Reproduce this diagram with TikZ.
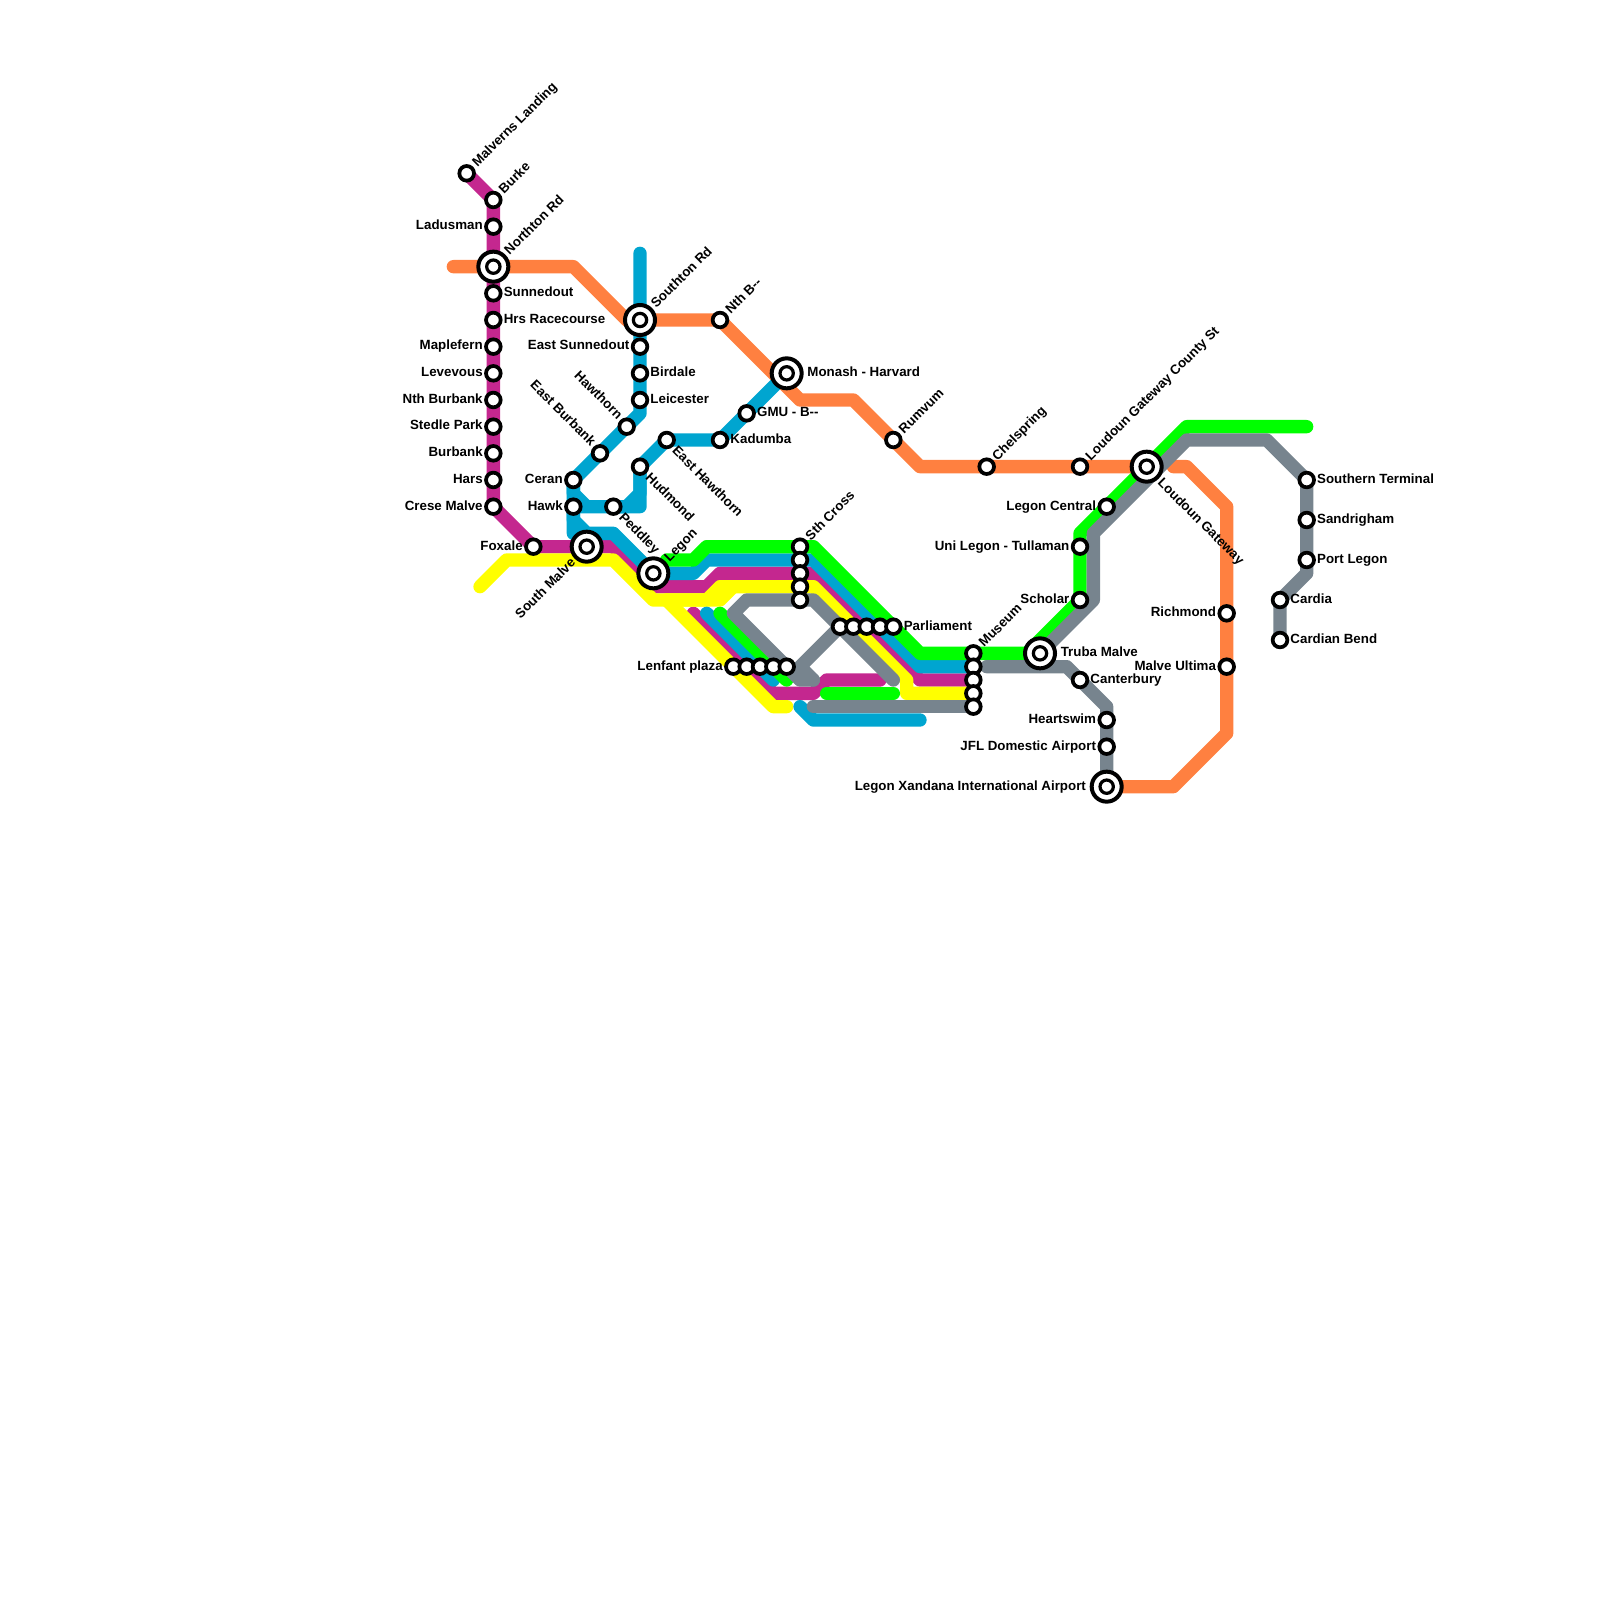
\documentclass[tikz,border=0pt]{standalone}
\usepackage{fontspec}
\setmainfont{Liberation Sans}
\usetikzlibrary{backgrounds}

\definecolor{lineorange}{HTML}{FF8040}
\definecolor{linemagenta}{HTML}{C4278F}
\definecolor{lineyellow}{HTML}{FFFF00}
\definecolor{lineblue}{HTML}{00A5D0}
\definecolor{linegreen}{HTML}{00FF00}
\definecolor{linegrey}{HTML}{77848E}

\tikzset{
  metro/.style={line width=0.2cm, line cap=round, line join=round},
  station/.style={circle, draw=black, fill=white, line width=0.056cm, minimum size=0.22cm, inner sep=0pt},
  stationcore/.style={circle, draw=black, fill=white, line width=0.048cm, minimum size=0.2cm, inner sep=0pt},
  bigstation/.style={circle, draw=black, fill=white, line width=0.06cm, minimum size=0.45cm, inner sep=0pt,
    label={[stationcore, anchor=center]center:{}}},
  lbl/.style={font=\bfseries\fontsize{5.69}{7}\selectfont, inner sep=0pt, text height=0.1cm, text depth=0pt},
  lblr/.style={label={[lbl, anchor=west, xshift=0.012cm]right:#1}},
  lbll/.style={label={[lbl, anchor=east, xshift=-0.015cm]left:#1}},
  lblrbig/.style={label={[lbl, anchor=west, xshift=0.05cm]right:#1}},
  lbllbig/.style={label={[lbl, anchor=east, xshift=-0.05cm]left:#1}},
  lblne/.style={label={[lbl, rotate=45, anchor=west, xshift=0.03cm, yshift=-0.005cm]45:#1}},
  lblse/.style={label={[lbl, rotate=-45, anchor=west, xshift=0.03cm, yshift=-0.02cm]-45:#1}},
  lblnw/.style={label={[lbl, rotate=-45, anchor=east, xshift=-0.03cm, yshift=0.02cm]135:#1}},
  lblsw/.style={label={[lbl, rotate=45, anchor=east, xshift=-0.03cm, yshift=-0.02cm]-135:#1}},
}

\begin{document}
\begin{tikzpicture}[x=0.2cm, y=-0.2cm]
  \useasboundingbox (0,0) rectangle (120,120);

  % free line ends
  \coordinate (orangea) at (34,20);
  \coordinate (orangeb) at (88,35);
  \coordinate (magentab) at (52,46);
  \coordinate (magentac) at (66,51);
  \coordinate (yellowa) at (36,44);
  \coordinate (yellowb) at (50,45);
  \coordinate (yellowc) at (59,53);
  \coordinate (yellowd) at (55,44);
  \coordinate (bluea) at (48,19);
  \coordinate (blueb) at (53,46);
  \coordinate (bluec) at (58,51);
  \coordinate (blued) at (60,53);
  \coordinate (bluee) at (69,54);
  \coordinate (greena) at (50,42);
  \coordinate (greenb) at (54,46);
  \coordinate (greenc) at (59,51);
  \coordinate (greend) at (62,52);
  \coordinate (greene) at (67,52);
  \coordinate (greenf) at (98,32);
  \coordinate (greya) at (67,51);
  \coordinate (greyb) at (61,51);
  \coordinate (greyc) at (74,50);
  \coordinate (greyd) at (61,53);

  % stations, west side
  \node[station, lblne=Malverns Landing] (malverns) at (35,13) {};
  \node[station, lblne=Burke] (burke) at (37,15) {};
  \node[station, lbll=Ladusman] (ladusman) at (37,17) {};
  \node[bigstation, lblne=Northton Rd] (northton) at (37,20) {};
  \node[station, lblr=Sunnedout] (sunnedout) at (37,22) {};
  \node[station, lblr=Hrs Racecourse] (racecourse) at (37,24) {};
  \node[station, lbll=Maplefern] (maplefern) at (37,26) {};
  \node[station, lbll=Levevous] (levevous) at (37,28) {};
  \node[station, lbll=Nth Burbank] (nthburbank) at (37,30) {};
  \node[station, lbll=Stedle Park] (stedle) at (37,32) {};
  \node[station, lbll=Burbank] (burbank) at (37,34) {};
  \node[station, lbll=Hars] (hars) at (37,36) {};
  \node[station, lbll=Crese Malve] (crese) at (37,38) {};
  \node[station, lbll=Foxale] (foxale) at (40,41) {};
  \node[bigstation, lblsw=South Malve] (southmalve) at (44,41) {};
  \node[station, lbll=Ceran] (ceran) at (43,36) {};
  \node[station, lbll=Hawk] (hawk) at (43,38) {};
  \node[station, lblse=Peddley] (peddley) at (46,38) {};
  \node[bigstation, lblne=Legon] (legon) at (49,43) {};

  % stations, blue and orange north of Legon
  \node[bigstation, lblne=Southton Rd] (southton) at (48,24) {};
  \node[station, lbll=East Sunnedout] (eastsunnedout) at (48,26) {};
  \node[station, lblr=Birdale] (birdale) at (48,28) {};
  \node[station, lblr=Leicester] (leicester) at (48,30) {};
  \node[station, lblnw=Hawthorn] (hawthorn) at (47,32) {};
  \node[station, lblnw=East Burbank] (eastburbank) at (45,34) {};
  \node[station, lblse=Hudmond] (hudmond) at (48,35) {};
  \node[station, lblse=East Hawthorn] (easthawthorn) at (50,33) {};
  \node[station, lblr=Kadumba] (kadumba) at (54,33) {};
  \node[station, lblr={GMU - B{-}{-}}] (gmu) at (56,31) {};
  \node[bigstation, lblrbig=Monash - Harvard] (monash) at (59,28) {};
  \node[station, lblne={Nth B{-}{-}}] (nthb) at (54,24) {};
  \node[station, lblne=Rumvum] (rumvum) at (67,33) {};
  \node[station, lblne=Chelspring] (chelspring) at (74,35) {};

  % stations, the stacks in the middle
  \node[station, lblne=Sth Cross] (sthcross) at (60,41) {};
  \node[station] (sthblue) at (60,42) {};
  \node[station] (sthmagenta) at (60,43) {};
  \node[station] (sthyellow) at (60,44) {};
  \node[station] (sthgrey) at (60,45) {};
  \node[station] (parlgrey) at (63,47) {};
  \node[station] (parlyellow) at (64,47) {};
  \node[station] (parlmagenta) at (65,47) {};
  \node[station] (parlblue) at (66,47) {};
  \node[station, lblr=Parliament] (parliament) at (67,47) {};
  \node[station, lbll=Lenfant plaza] (lenfant) at (55,50) {};
  \node[station] (lenfmagenta) at (56,50) {};
  \node[station] (lenfblue) at (57,50) {};
  \node[station] (lenfgreen) at (58,50) {};
  \node[station] (lenfgrey) at (59,50) {};
  \node[station, lblne=Museum] (museum) at (73,49) {};
  \node[station] (musblue) at (73,50) {};
  \node[station] (musmagenta) at (73,51) {};
  \node[station] (musyellow) at (73,52) {};
  \node[station] (musgrey) at (73,53) {};

  % stations, east side
  \node[bigstation, lblrbig=Truba Malve] (truba) at (78,49) {};
  \node[station, lbll=Scholar] (scholar) at (81,45) {};
  \node[station, lbll=Uni Legon - Tullaman] (unilegon) at (81,41) {};
  \node[station, lbll=Legon Central] (legoncentral) at (83,38) {};
  \node[station, lblne=Loudoun Gateway County St] (loudouncounty) at (81,35) {};
  \node[bigstation, lblse=Loudoun Gateway] (loudoun) at (86,35) {};
  \node[station, lblr=Canterbury] (canterbury) at (81,51) {};
  \node[station, lbll=Heartswim] (heartswim) at (83,54) {};
  \node[station, lbll=JFL Domestic Airport] (jfl) at (83,56) {};
  \node[bigstation, lbllbig=Legon Xandana International Airport] (xandana) at (83,59) {};
  \node[station, lbll=Richmond] (richmond) at (92,46) {};
  \node[station, lbll=Malve Ultima] (ultima) at (92,50) {};
  \node[station, lblr=Southern Terminal] (southern) at (98,36) {};
  \node[station, lblr=Sandrigham] (sandrigham) at (98,39) {};
  \node[station, lblr=Port Legon] (portlegon) at (98,42) {};
  \node[station, lblr=Cardia] (cardia) at (96,45) {};
  \node[station, lblr=Cardian Bend] (cardianbend) at (96,48) {};

  \begin{scope}[on background layer]
    % orange
    \draw[metro, lineorange] (orangea) -- (northton.center) -- (43,20) -- (47,24) -- (southton.center) -- (nthb.center) -- (60,30) -- (64,30) -- (rumvum.center) -- (69,35) -- (chelspring.center) -- (loudouncounty.center) -- (loudoun.center);
    \draw[metro, lineorange] (orangeb) -- (89,35) -- (92,38) -- (richmond.center) -- (ultima.center) -- (92,55) -- (88,59) -- (xandana.center);

    % magenta
    \draw[metro, linemagenta] (malverns.center) -- (burke.center) -- (crese.center) -- (foxale.center) -- (southmalve.center) -- (46,41) -- (49,44) -- (53,44) -- (54,43) -- (sthmagenta.center) -- (61,43) -- (69,51) -- (musmagenta.center);
    \draw[metro, linemagenta] (magentab) -- (58,52) -- (61,52) -- (62,51) -- (magentac);

    % yellow
    \draw[metro, lineyellow] (yellowa) -- (38,42) -- (46,42) -- (49,45) -- (53,45) -- (54,44) -- (sthyellow.center) -- (61,44) -- (68,51) -- (68,52) -- (musyellow.center);
    \draw[metro, lineyellow] (yellowb) -- (58,53) -- (yellowc);
    \draw[metro, lineyellow] (yellowb) -- (54,45) -- (yellowd);

    % blue
    \draw[metro, lineblue] (bluea) -- (southton.center) -- (leicester.center) -- (48,31) -- (ceran.center) -- (43,40);
    \draw[metro, lineblue] (ceran.center) -- (43,37) -- (44,38) -- (hawk.center) -- (48,38) -- (hudmond.center) -- (easthawthorn.center) -- (kadumba.center) -- (monash.center);
    \draw[metro, lineblue] (peddley.center) -- (47,38) -- (48,37) -- (hudmond.center);
    \draw[metro, lineblue] (hawk.center) -- (43,39) -- (44,40) -- (46,40) -- (49,43) -- (52,43) -- (53,42) -- (sthblue.center) -- (61,42) -- (69,50) -- (musblue.center);
    \draw[metro, lineblue] (blueb) -- (bluec);
    \draw[metro, lineblue] (blued) -- (61,54) -- (bluee);

    % green
    \draw[metro, linegreen] (greena) -- (52,42) -- (53,41) -- (sthcross.center) -- (61,41) -- (69,49) -- (museum.center) -- (77,49) -- (scholar.center) -- (81,40) -- (89,32) -- (greenf);
    \draw[metro, linegreen] (greenb) -- (greenc);
    \draw[metro, linegreen] (greend) -- (greene);

    % grey
    \draw[metro, linegrey] (sthgrey.center) -- (61,45) -- (greya);
    \draw[metro, linegrey] (sthgrey.center) -- (56,45) -- (55,46) -- (60,51) -- (greyb);
    \draw[metro, linegrey] (parlgrey.center) -- (60,50) -- (greyb);
    \draw[metro, linegrey] (musgrey.center) -- (greyd);
    \draw[metro, linegrey] (greyc) -- (80,50) -- (83,53) -- (xandana.center);
    \draw[metro, linegrey] (truba.center) -- (82,45) -- (82,40) -- (89,33) -- (95,33) -- (southern.center) -- (98,43) -- (cardia.center) -- (cardianbend.center);
  \end{scope}
\end{tikzpicture}
\end{document}
